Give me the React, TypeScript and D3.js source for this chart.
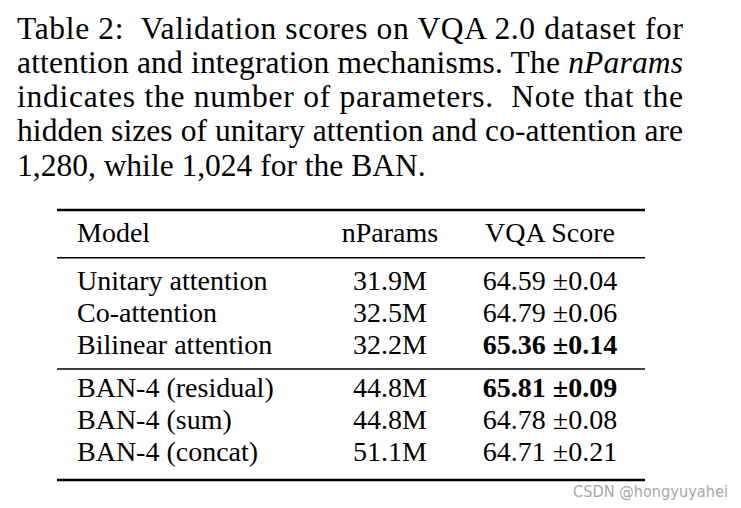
import React from "react";
import * as d3 from "d3";

const captionLines = [
  "Table 2:  Validation scores on VQA 2.0 dataset for",
  "attention and integration mechanisms. The |nParams|",
  "indicates the number of parameters.  Note that the",
  "hidden sizes of unitary attention and co-attention are",
  "1,280, while 1,024 for the BAN.",
];
const columns = ["Model", "nParams", "VQA Score"];
const models = [
  "Unitary attention",
  "Co-attention",
  "Bilinear attention",
  "BAN-4 (residual)",
  "BAN-4 (sum)",
  "BAN-4 (concat)",
];
const groups = [0, 0, 0, 1, 1, 1];
const nParams = ["31.9M", "32.5M", "32.2M", "44.8M", "44.8M", "51.1M"];
const scores = ["64.59", "64.79", "65.36", "65.81", "64.78", "64.71"];
const stds = ["0.04", "0.06", "0.14", "0.09", "0.08", "0.21"];
const best = [false, false, true, true, false, false];

const W = 741;
const H = 508;
const serif = "'Liberation Serif', 'Times New Roman', serif";

export default function App() {
  const rowY = d3.scaleLinear().domain([0, 1]).range([290, 322]);
  const groupGap = 11;
  const yOf = (i: number) => rowY(i) + groups[i] * groupGap;
  const colX = d3.scaleOrdinal<string, number>().domain(columns).range([77, 390, 550]);
  const lineX0 = 57;
  const lineX1 = 645;
  const captionY = d3.scaleLinear().domain([0, 1]).range([38.5, 72.8]);
  const justified = [666, 666, 666, 666, 0];

  const renderCaption = (line: string, i: number) => {
    const parts = line.split("|");
    return (
      <text
        key={i}
        x={17}
        y={captionY(i)}
        fontFamily={serif}
        fontSize={31.5}
        fill="#000"
        textLength={justified[i] || undefined}
        lengthAdjust="spacing"
        style={{ whiteSpace: "pre" }}
      >
        {parts.map((p, k) => (
          <tspan key={k} fontStyle={k % 2 === 1 ? "italic" : "normal"}>
            {p}
          </tspan>
        ))}
      </text>
    );
  };

  return (
    <svg
      width={W}
      height={H}
      style={{ position: "absolute", left: 0, top: 0, background: "#fff" }}
    >
      <rect width={W} height={H} fill="#fff" />
      {captionLines.map(renderCaption)}

      <line x1={lineX0} x2={lineX1} y1={210} y2={210} stroke="#000" strokeWidth={2.6} />
      <line x1={lineX0} x2={lineX1} y1={257.7} y2={257.7} stroke="#000" strokeWidth={1.5} />
      <line x1={lineX0} x2={lineX1} y1={369} y2={369} stroke="#000" strokeWidth={1.5} />
      <line x1={lineX0} x2={lineX1} y1={480} y2={480} stroke="#000" strokeWidth={2.6} />

      {columns.map((c, j) => (
        <text
          key={c}
          x={colX(c)}
          y={242}
          fontFamily={serif}
          fontSize={28}
          textAnchor={j === 0 ? "start" : "middle"}
        >
          {c}
        </text>
      ))}

      {models.map((m, i) => (
        <g key={m} fontFamily={serif} fontSize={28} fill="#000">
          <text x={colX("Model")} y={yOf(i)}>
            {m}
          </text>
          <text x={colX("nParams")} y={yOf(i)} textAnchor="middle">
            {nParams[i]}
          </text>
          <text
            x={colX("VQA Score")}
            y={yOf(i)}
            textAnchor="middle"
            fontWeight={best[i] ? "bold" : "normal"}
          >
            {scores[i] + " \u00B1" + stds[i]}
          </text>
        </g>
      ))}

      <text
        x={573}
        y={497}
        fontFamily="'Liberation Sans Narrow', 'DejaVu Sans Condensed', sans-serif"
        fontSize={15}
        fill="#a8a8a8"
        textLength={155}
        lengthAdjust="spacingAndGlyphs"
      >
        CSDN @hongyuyahei
      </text>
    </svg>
  );
}
